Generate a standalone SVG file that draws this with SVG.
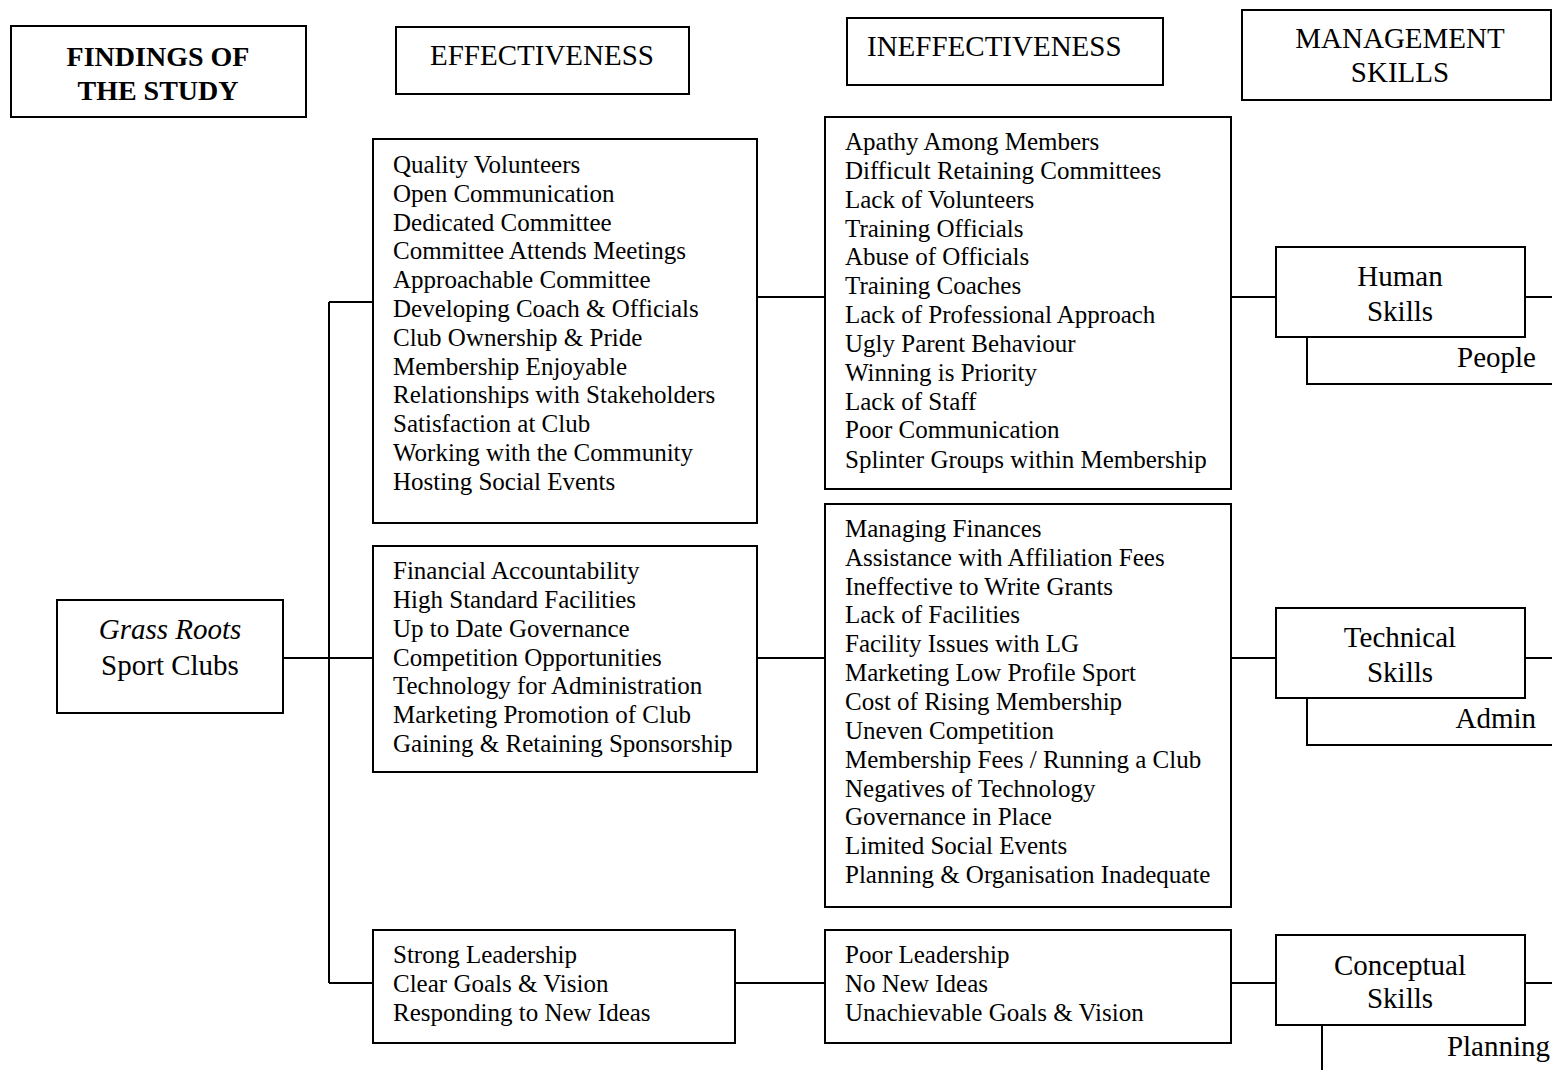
<svg xmlns="http://www.w3.org/2000/svg" width="1552" height="1070" viewBox="0 0 1552 1070">
<style>
rect{fill:#fff;stroke:#000;stroke-width:2}
line,polyline{stroke:#000;stroke-width:2;fill:none}
text{font-family:"Liberation Serif","Times New Roman",serif;fill:#000}
.l{font-size:25px}
.h{font-size:29px}
.c{text-anchor:middle}
.b{font-weight:bold;font-size:28px}
.e{text-anchor:end}
</style>
<rect width="1552" height="1070" style="fill:#fff;stroke:none"/>
<g id="connectors">
<line x1="283" y1="658" x2="373" y2="658"/>
<line x1="329" y1="302" x2="329" y2="983"/>
<line x1="329" y1="302" x2="373" y2="302"/>
<line x1="329" y1="983" x2="373" y2="983"/>
<line x1="757" y1="297" x2="825" y2="297"/>
<line x1="757" y1="658" x2="825" y2="658"/>
<line x1="735" y1="983" x2="825" y2="983"/>
<line x1="1231" y1="297" x2="1276" y2="297"/>
<line x1="1231" y1="658" x2="1276" y2="658"/>
<line x1="1231" y1="983" x2="1276" y2="983"/>
<line x1="1525" y1="297" x2="1552" y2="297"/>
<line x1="1525" y1="658" x2="1552" y2="658"/>
<line x1="1525" y1="983" x2="1552" y2="983"/>
<polyline points="1307,337 1307,384 1552,384"/>
<polyline points="1307,698 1307,745 1552,745"/>
<line x1="1322" y1="1025" x2="1322" y2="1070"/>
</g>
<g id="findings">
<rect x="11" y="26" width="295" height="91"/>
<text class="b c" x="158" y="66">FINDINGS OF</text>
<text class="b c" x="158" y="100">THE STUDY</text>
</g>
<g id="effectiveness-header">
<rect x="396" y="27" width="293" height="67"/>
<text class="h c" x="542" y="65">EFFECTIVENESS</text>
</g>
<g id="ineffectiveness-header">
<rect x="847" y="18" width="316" height="67"/>
<text class="h" x="867" y="56">INEFFECTIVENESS</text>
</g>
<g id="management-header">
<rect x="1242" y="10" width="309" height="90"/>
<text class="h c" x="1400" y="48">MANAGEMENT</text>
<text class="h c" x="1400" y="82">SKILLS</text>
</g>
<g id="grass-roots">
<rect x="57" y="600" width="226" height="113"/>
<text class="h c" x="170" y="639" font-style="italic">Grass Roots</text>
<text class="h c" x="170" y="675">Sport Clubs</text>
</g>
<g id="eff1">
<rect x="373" y="139" width="384" height="384"/>
<text class="l" x="393" y="173">Quality Volunteers</text>
<text class="l" x="393" y="202">Open Communication</text>
<text class="l" x="393" y="231">Dedicated Committee</text>
<text class="l" x="393" y="259">Committee Attends Meetings</text>
<text class="l" x="393" y="288">Approachable Committee</text>
<text class="l" x="393" y="317">Developing Coach &amp; Officials</text>
<text class="l" x="393" y="346">Club Ownership &amp; Pride</text>
<text class="l" x="393" y="375">Membership Enjoyable</text>
<text class="l" x="393" y="403">Relationships with Stakeholders</text>
<text class="l" x="393" y="432">Satisfaction at Club</text>
<text class="l" x="393" y="461">Working with the Community</text>
<text class="l" x="393" y="490">Hosting Social Events</text>
</g>
<g id="eff2">
<rect x="373" y="546" width="384" height="226"/>
<text class="l" x="393" y="579">Financial Accountability</text>
<text class="l" x="393" y="608">High Standard Facilities</text>
<text class="l" x="393" y="637">Up to Date Governance</text>
<text class="l" x="393" y="666">Competition Opportunities</text>
<text class="l" x="393" y="694">Technology for Administration</text>
<text class="l" x="393" y="723">Marketing Promotion of Club</text>
<text class="l" x="393" y="752">Gaining &amp; Retaining Sponsorship</text>
</g>
<g id="eff3">
<rect x="373" y="930" width="362" height="113"/>
<text class="l" x="393" y="963">Strong Leadership</text>
<text class="l" x="393" y="992">Clear Goals &amp; Vision</text>
<text class="l" x="393" y="1021">Responding to New Ideas</text>
</g>
<g id="ineff1">
<rect x="825" y="117" width="406" height="372"/>
<text class="l" x="845" y="150">Apathy Among Members</text>
<text class="l" x="845" y="179">Difficult Retaining Committees</text>
<text class="l" x="845" y="208">Lack of Volunteers</text>
<text class="l" x="845" y="237">Training Officials</text>
<text class="l" x="845" y="265">Abuse of Officials</text>
<text class="l" x="845" y="294">Training Coaches</text>
<text class="l" x="845" y="323">Lack of Professional Approach</text>
<text class="l" x="845" y="352">Ugly Parent Behaviour</text>
<text class="l" x="845" y="381">Winning is Priority</text>
<text class="l" x="845" y="410">Lack of Staff</text>
<text class="l" x="845" y="438">Poor Communication</text>
<text class="l" x="845" y="468">Splinter Groups within Membership</text>
</g>
<g id="ineff2">
<rect x="825" y="504" width="406" height="403"/>
<text class="l" x="845" y="537">Managing Finances</text>
<text class="l" x="845" y="566">Assistance with Affiliation Fees</text>
<text class="l" x="845" y="595">Ineffective to Write Grants</text>
<text class="l" x="845" y="623">Lack of Facilities</text>
<text class="l" x="845" y="652">Facility Issues with LG</text>
<text class="l" x="845" y="681">Marketing Low Profile Sport</text>
<text class="l" x="845" y="710">Cost of Rising Membership</text>
<text class="l" x="845" y="739">Uneven Competition</text>
<text class="l" x="845" y="768">Membership Fees / Running a Club</text>
<text class="l" x="845" y="797">Negatives of Technology</text>
<text class="l" x="845" y="825">Governance in Place</text>
<text class="l" x="845" y="854">Limited Social Events</text>
<text class="l" x="845" y="883">Planning &amp; Organisation Inadequate</text>
</g>
<g id="ineff3">
<rect x="825" y="930" width="406" height="113"/>
<text class="l" x="845" y="963">Poor Leadership</text>
<text class="l" x="845" y="992">No New Ideas</text>
<text class="l" x="845" y="1021">Unachievable Goals &amp; Vision</text>
</g>
<g id="human-skills">
<rect x="1276" y="247" width="249" height="90"/>
<text class="h c" x="1400" y="286">Human</text>
<text class="h c" x="1400" y="321">Skills</text>
<text class="h e" x="1536" y="367">People</text>
</g>
<g id="technical-skills">
<rect x="1276" y="608" width="249" height="90"/>
<text class="h c" x="1400" y="647">Technical</text>
<text class="h c" x="1400" y="682">Skills</text>
<text class="h e" x="1536" y="728">Admin</text>
</g>
<g id="conceptual-skills">
<rect x="1276" y="935" width="249" height="90"/>
<text class="h c" x="1400" y="975">Conceptual</text>
<text class="h c" x="1400" y="1008">Skills</text>
<text class="h e" x="1550" y="1056">Planning</text>
</g>
</svg>
